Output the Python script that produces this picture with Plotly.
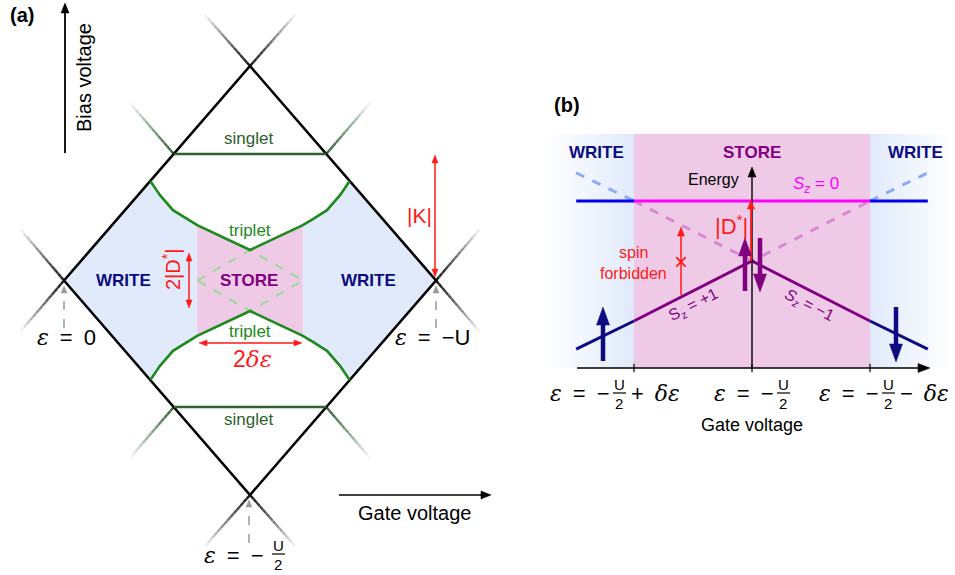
import plotly.graph_objects as go

W, H = 955, 575
FONT = "Liberation Sans"

# ---------------- Panel (a): stability diagram, x = -eps/U, v = bias/U ----------------
DIAMOND_X = [0.0, 0.5, 1.0, 0.5, 0.0]
DIAMOND_V = [0.0, 0.5, 0.0, -0.5, 0.0]
SINGLET_X = [0.295, 0.705]
SINGLET_V = 0.295
TRIPLET_X = [0.232, 0.258, 0.293, 0.331, 0.358, 0.5, 0.642, 0.669, 0.707, 0.742, 0.768]
TRIPLET_V = [0.232, 0.199, 0.164, 0.143, 0.129, 0.071, 0.129, 0.143, 0.164, 0.199, 0.232]
STORE_DASH_X = [0.358, 0.5, 0.642, 0.5, 0.358]
STORE_DASH_V = [0.0, 0.071, 0.0, -0.071, 0.0]
# fading continuation lines: (x_start, v_start, x_end, v_end, kind)
FADE_LINES = [
    (0.5, 0.5, 0.379, 0.619, "k"), (0.5, 0.5, 0.621, 0.619, "k"),
    (0.0, 0.0, -0.116, 0.118, "k"), (0.0, 0.0, -0.116, -0.118, "k"),
    (1.0, 0.0, 1.116, 0.118, "k"), (1.0, 0.0, 1.116, -0.118, "k"),
    (0.5, -0.5, 0.379, -0.619, "k"), (0.5, -0.5, 0.621, -0.619, "k"),
    (0.295, 0.295, 0.177, 0.414, "g"), (0.705, 0.295, 0.823, 0.414, "g"),
    (0.295, -0.295, 0.177, -0.414, "g"), (0.705, -0.295, 0.823, -0.414, "g"),
]

# ---------------- Panel (b): energy vs gate, u = gate offset / d_eps, E = energy / |D*| --------
LEVEL_U = [-1.49, -1.0, 1.0, 1.49]
LEVEL_E = [0.0, 0.0, 0.0, 0.0]
SOLID_U = [-1.49, -1.0, 0.0, 1.0, 1.49]
SOLID_E = [-2.47, -2.0, -1.0, -2.0, -2.47]
DASH_E = [0.47, 0.0, -1.0, 0.0, 0.47]
STORE_U = [-1.0, 1.0]
WRITE_L_U = [-1.77, -1.0]
WRITE_R_U = [1.0, 1.72]
BOX_E = [-2.783, 1.117]
AXIS_E = -2.783

# colours
BLUE_FILL = "#e1eafb"
PINK_FILL = "#eecae6"
SINGLET_C = "#2d6130"
TRIPLET_C = "#1c8a1c"
NAVY = "#0c0c80"
PURPLE = "#800080"
RED = "#ff1a1a"

fig = go.Figure()

# axis ranges map the data units onto the 955x575 canvas
XA = [(0 - 64) / 372, (W - 64) / 372]
YA = [(280.5 - H) / 429, 280.5 / 429]
XB = [(0 - 752) / 118, (W - 752) / 118]
YB = [(201 - H) / 60, 201 / 60]


def sc(x, y, **kw):
    fig.add_trace(go.Scatter(x=x, y=y, hoverinfo="skip", showlegend=False, **kw))


# ---- panel (a) fills
L = range(0, 5)
lx = [TRIPLET_X[0], 0.0] + [TRIPLET_X[i] for i in L] + [TRIPLET_X[i] for i in reversed(L)]
lv = [TRIPLET_V[0], 0.0] + [-TRIPLET_V[i] for i in L] + [TRIPLET_V[i] for i in reversed(L)]
sc(lx, lv, mode="lines", fill="toself", fillcolor=BLUE_FILL, line=dict(width=0))
R = range(6, 11)
rx = [TRIPLET_X[10], 1.0] + [TRIPLET_X[i] for i in reversed(R)] + [TRIPLET_X[i] for i in R]
rv = [TRIPLET_V[10], 0.0] + [-TRIPLET_V[i] for i in reversed(R)] + [TRIPLET_V[i] for i in R]
sc(rx, rv, mode="lines", fill="toself", fillcolor=BLUE_FILL, line=dict(width=0))
M = range(4, 7)
px_ = [TRIPLET_X[i] for i in M] + [TRIPLET_X[i] for i in reversed(M)]
pv_ = [TRIPLET_V[i] for i in M] + [-TRIPLET_V[i] for i in reversed(M)]
sc(px_, pv_, mode="lines", fill="toself", fillcolor=PINK_FILL, line=dict(width=0))

sc(STORE_DASH_X, STORE_DASH_V, mode="lines", line=dict(color="#a6d7a0", width=2.5, dash="dash"))
sc(DIAMOND_X, DIAMOND_V, mode="lines", line=dict(color="black", width=2.6))
sc(TRIPLET_X, TRIPLET_V, mode="lines", line=dict(color=TRIPLET_C, width=2.6))
sc(TRIPLET_X, [-v for v in TRIPLET_V], mode="lines", line=dict(color=TRIPLET_C, width=2.6))
sc(SINGLET_X, [SINGLET_V] * 2, mode="lines", line=dict(color=SINGLET_C, width=2.6))
sc(SINGLET_X, [-SINGLET_V] * 2, mode="lines", line=dict(color=SINGLET_C, width=2.6))


def mix(c, t):
    c = c.lstrip("#")
    r, g, b = int(c[0:2], 16), int(c[2:4], 16), int(c[4:6], 16)
    return "rgb(%d,%d,%d)" % (r + (255 - r) * t, g + (255 - g) * t, b + (255 - b) * t)


N = 14
for x0, v0, x1, v1, kind in FADE_LINES:
    base = "#1a1a1a" if kind == "k" else "#35663a"
    for i in range(N):
        t0, t1 = i / N, (i + 1) / N
        fig.add_shape(type="line", xref="x", yref="y", layer="below",
                      x0=x0 + (x1 - x0) * t0, y0=v0 + (v1 - v0) * t0,
                      x1=x0 + (x1 - x0) * t1, y1=v0 + (v1 - v0) * t1,
                      line=dict(color=mix(base, ((i + 0.5) / N) ** 1.2 * 0.97), width=2.4))

# ---- panel (b)
kb = dict(xaxis="x2", yaxis="y2")
sc([WRITE_L_U[0], WRITE_L_U[1], WRITE_L_U[1], WRITE_L_U[0]], [BOX_E[0], BOX_E[0], BOX_E[1], BOX_E[1]],
   mode="lines", fill="toself", line=dict(width=0),
   fillgradient=dict(type="horizontal", colorscale=[[0, "rgba(255,255,255,1)"], [1, BLUE_FILL]]), **kb)
sc([WRITE_R_U[0], WRITE_R_U[1], WRITE_R_U[1], WRITE_R_U[0]], [BOX_E[0], BOX_E[0], BOX_E[1], BOX_E[1]],
   mode="lines", fill="toself", line=dict(width=0),
   fillgradient=dict(type="horizontal", colorscale=[[0, BLUE_FILL], [1, "rgba(255,255,255,1)"]]), **kb)
sc([STORE_U[0], STORE_U[1], STORE_U[1], STORE_U[0]], [BOX_E[0], BOX_E[0], BOX_E[1], BOX_E[1]],
   mode="lines", fill="toself", fillcolor=PINK_FILL, line=dict(width=0), **kb)

DASH = dict(width=3, dash="dash")
sc(SOLID_U[0:2], DASH_E[0:2], mode="lines", line=dict(color="#8cabf5", **DASH), **kb)
sc(SOLID_U[1:4], DASH_E[1:4], mode="lines", line=dict(color="#d98ad2", **DASH), **kb)
sc(SOLID_U[3:5], DASH_E[3:5], mode="lines", line=dict(color="#8cabf5", **DASH), **kb)
sc(SOLID_U[0:2], SOLID_E[0:2], mode="lines", line=dict(color=NAVY, width=3), **kb)
sc(SOLID_U[1:4], SOLID_E[1:4], mode="lines", line=dict(color=PURPLE, width=3), **kb)
sc(SOLID_U[3:5], SOLID_E[3:5], mode="lines", line=dict(color=NAVY, width=3), **kb)
sc(LEVEL_U[0:2], LEVEL_E[0:2], mode="lines", line=dict(color="#0000f0", width=3), **kb)
sc(LEVEL_U[1:3], LEVEL_E[1:3], mode="lines", line=dict(color="#ff00ff", width=3), **kb)
sc(LEVEL_U[2:4], LEVEL_E[2:4], mode="lines", line=dict(color="#0000f0", width=3), **kb)
# tick marks on gate axis
for u in [STORE_U[0], 0.0, STORE_U[1]]:
    fig.add_shape(type="line", xref="x2", yref="y2", x0=u, x1=u, y0=AXIS_E - 0.07, y1=AXIS_E + 0.07,
                  line=dict(color="black", width=1.2))

anns = []


def P(px, py):
    return px / W, 1 - py / H


def txt(px, py, text, size, color="black", bold=False, angle=0, xanchor="center", family=FONT):
    x, y = P(px, py)
    if bold:
        text = "<b>%s</b>" % text
    anns.append(dict(x=x, y=y, xref="paper", yref="paper", text=text, showarrow=False,
                     font=dict(size=size, color=color, family=family), textangle=angle,
                     xanchor=xanchor, yanchor="middle"))


def seg(px0, py0, px1, py1, color="black", width=1.2, dash="solid"):
    x0, y0 = P(px0, py0)
    x1, y1 = P(px1, py1)
    fig.add_shape(type="line", xref="paper", yref="paper", x0=x0, x1=x1, y0=y0, y1=y1,
                  line=dict(color=color, width=width, dash=dash))


def head(tx, ty, dx, dy, hl, hw, color):
    # triangular arrow head with its tip at (tx, ty), pointing along (dx, dy)
    nx, ny = -dy, dx
    bx, by = tx - dx * hl, ty - dy * hl
    pts = [(tx, ty), (bx + nx * hw / 2, by + ny * hw / 2), (bx - nx * hw / 2, by - ny * hw / 2)]
    path = "M " + " L ".join("%.5f,%.5f" % P(a, b) for a, b in pts) + " Z"
    fig.add_shape(type="path", xref="paper", yref="paper", path=path,
                  fillcolor=color, line=dict(color=color, width=0.5))


def arrow(px0, py0, px1, py1, color="black", width=1.5, hl=8, hw=7, both=False):
    d = ((px1 - px0) ** 2 + (py1 - py0) ** 2) ** 0.5
    dx, dy = (px1 - px0) / d, (py1 - py0) / d
    sx, sy = (px0 + dx * hl * 0.8, py0 + dy * hl * 0.8) if both else (px0, py0)
    seg(sx, sy, px1 - dx * hl * 0.8, py1 - dy * hl * 0.8, color, width)
    head(px1, py1, dx, dy, hl, hw, color)
    if both:
        head(px0, py0, -dx, -dy, hl, hw, color)


SP = "\u2002"
EPS = "<span style=\"font-family:'DejaVu Serif'\"><i>\u03b5</i></span>"
DEPS = "<span style=\"font-family:'DejaVu Serif'\"><i>\u03b4\u03b5</i></span>"

# ---- panel (a) text
txt(22, 15, "(a)", 20, bold=True)
arrow(65, 153, 65, 3, width=1.8, hl=10, hw=8)
txt(84, 78, "Bias voltage", 20, angle=-90)
txt(249, 138, "singlet", 17, SINGLET_C)
txt(249, 419, "singlet", 17, SINGLET_C)
txt(250, 230, "triplet", 17, TRIPLET_C)
txt(250, 331, "triplet", 17, TRIPLET_C)
txt(123, 281, "WRITE", 17, NAVY, bold=True)
txt(368, 281, "WRITE", 17, NAVY, bold=True)
txt(249, 281, "STORE", 17, PURPLE, bold=True)
txt(171, 270, "2|D<sup>*</sup>|", 20, RED, angle=-90)
arrow(189, 308, 189, 253, RED, 1.5, hl=8, hw=6, both=True)
txt(419, 215, "|K|", 21, RED)
arrow(435, 277, 435, 155, RED, 1.5, hl=8, hw=6, both=True)
txt(252, 359, "2" + DEPS, 23, RED)
arrow(199, 343, 302, 343, RED, 1.5, hl=8, hw=6, both=True)
# dashed grey pointers
for vx, vy0, vy1 in [(64, 328, 286), (436, 328, 286), (249, 543, 500)]:
    seg(vx, vy0, vx, vy1 + 5, "#9a9a9a", 1.5, "dash")
    head(vx, vy1, 0, -1, 7, 6, "#9a9a9a")
txt(66, 337, EPS + SP + "=" + SP + "0", 22)
txt(432, 337, EPS + SP + "=" + SP + "\u2212U", 22)
txt(266, 555, EPS + SP + "=" + SP + "\u2212", 22, xanchor="right")
txt(278, 545, "U", 15)
txt(278, 564, "2", 15)
seg(272, 554, 285, 554, "black", 1.2)
arrow(339, 495, 491, 495, width=1.5, hl=10, hw=8)
txt(414, 513, "Gate voltage", 20)

# ---- panel (b) text
txt(567, 105, "(b)", 20, bold=True)
txt(596, 152, "WRITE", 17, NAVY, bold=True)
txt(915, 152, "WRITE", 17, NAVY, bold=True)
txt(752, 152, "STORE", 17, PURPLE, bold=True)
arrow(752, 369, 752, 167, width=1.4, hl=10, hw=8)
arrow(751, 261, 751, 200, RED, 1.8, hl=9, hw=7)
txt(713, 179, "Energy", 16)
txt(816, 185, "<i>S<sub>z</sub></i> = 0", 17, "#ff00ff")
txt(731, 225, "|D<sup>*</sup>|", 22, RED)
arrow(681, 295, 681, 227, RED, 1.5, hl=9, hw=7)
txt(681, 261, "\u00d7", 24, RED)
txt(633, 252, "spin", 16, RED)
txt(633, 273, "forbidden", 16, RED)
txt(693, 305, "S<sub>z</sub> = +1", 16, PURPLE, angle=-27)
txt(809, 305, "<i>S<sub>z</sub></i> = \u22121", 16, PURPLE, angle=27)
arrow(603, 361, 603, 307, NAVY, 4.5, hl=18, hw=13)
arrow(896, 307, 896, 362, NAVY, 4.5, hl=18, hw=13)
arrow(745, 291, 745, 238, PURPLE, 4.5, hl=18, hw=13)
arrow(760, 238, 760, 292, PURPLE, 4.5, hl=18, hw=13)
arrow(577, 368, 930, 368, width=1.4, hl=12, hw=9)
# tick labels with stacked fractions
for cx, pre_r, post in [(619, 612, "+" + SP + DEPS), (783, 776, None), (888, 881, "\u2212" + SP + DEPS)]:
    txt(pre_r, 393, EPS + SP + "=" + SP + "\u2212", 22, xanchor="right")
    txt(cx, 384, "U", 15)
    txt(cx, 403, "2", 15)
    seg(cx - 6, 393, cx + 7, 393, "black", 1.2)
    if post:
        txt(cx + 10, 393, post, 22, xanchor="left")
txt(752, 425, "Gate voltage", 18)

fig.update_layout(
    width=W, height=H, margin=dict(l=0, r=0, t=0, b=0),
    paper_bgcolor="white", plot_bgcolor="white",
    xaxis=dict(range=XA, visible=False, fixedrange=True),
    yaxis=dict(range=YA, visible=False, fixedrange=True),
    xaxis2=dict(range=XB, visible=False, overlaying="x", fixedrange=True),
    yaxis2=dict(range=YB, visible=False, overlaying="y", fixedrange=True),
    annotations=anns, showlegend=False,
    font=dict(family=FONT),
)
fig.write_html("out.html", config={"displayModeBar": False},
               post_script="document.body.style.margin='0px';")
